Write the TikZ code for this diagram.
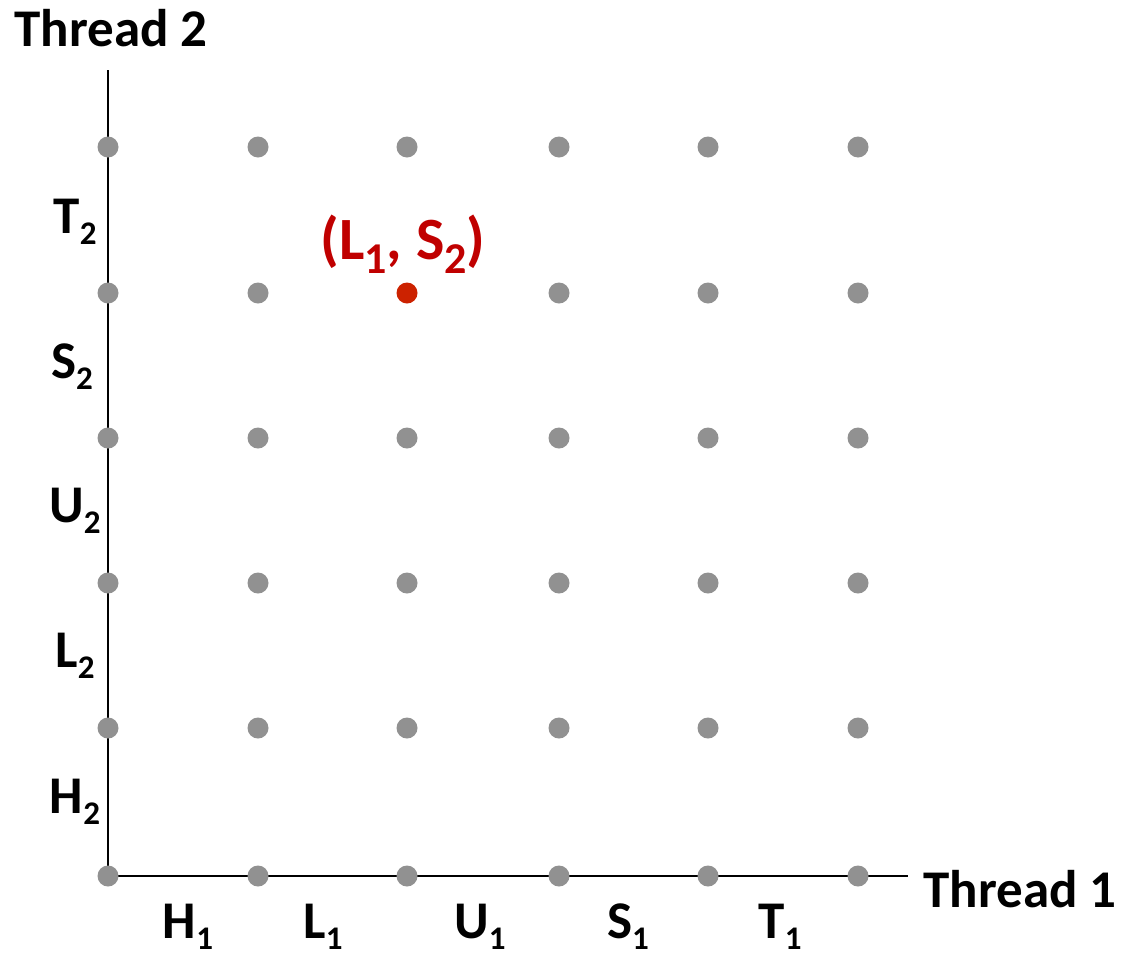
\documentclass[tikz,border=0pt]{standalone}
\usepackage{fontspec}
\setmainfont{Carlito}
\definecolor{dotgray}{RGB}{145,145,145}
\definecolor{redlab}{RGB}{192,0,0}
\definecolor{reddot}{RGB}{204,34,0}
\newcommand\lsub[1]{\raisebox{-11pt}[12pt][11pt]{\fontsize{33}{33}\selectfont #1}}
\newcommand\rsub[1]{\raisebox{-14pt}[16pt][14pt]{\fontsize{44}{44}\selectfont #1}}
\tikzset{
  dot/.style={circle,fill=dotgray,inner sep=0pt,minimum size=21pt},
  hotdot/.style={circle,fill=reddot,inner sep=0pt,minimum size=21pt},
  axis/.style={line width=2.4pt,black},
  lab/.style={font=\fontsize{53}{60}\selectfont\bfseries,inner sep=0pt},
  redlabel/.style={font=\fontsize{60}{66}\selectfont\bfseries,inner sep=0pt,text=redlab}
}
\begin{document}
\begin{tikzpicture}[x=1pt,y=-1pt]
\useasboundingbox (0,0) rectangle (1121,956);
\def\xs{{108,258,407,559,708,858}}
\def\ys{{876,728,583,438,293,147}}
\coordinate (ytop) at (108,70);
\coordinate (xend) at (908,876);
\coordinate (orig) at (108,876);
\draw[axis] (ytop) -- (orig) -- (xend);
% dots
\foreach \i in {0,...,5}{
  \foreach \j in {0,...,5}{
    \pgfmathsetmacro\px{\xs[\i]}
    \pgfmathsetmacro\py{\ys[\j]}
    \ifnum\i=2 \ifnum\j=4
      \node[hotdot] (d-\i-\j) at (\px,\py) {};
    \else
      \node[dot] (d-\i-\j) at (\px,\py) {};
    \fi
    \else
      \node[dot] (d-\i-\j) at (\px,\py) {};
    \fi
  }
}
% axis titles
\node[lab] (t2) at (111,28) {Thread 2};
\node[lab] (t1) at (1020,889) {Thread 1};
% thread 1 labels
\node[lab,anchor=base] (h1) at (188,938) {H\lsub{1}};
\node[lab,anchor=base] (l1) at (323,938) {L\lsub{1}};
\node[lab,anchor=base] (u1) at (480,938) {U\lsub{1}};
\node[lab,anchor=base] (s1) at (628,938) {S\lsub{1}};
\node[lab,anchor=base] (tt1) at (780,938) {T\lsub{1}};
% thread 2 labels
\node[lab,anchor=base] (tt2) at (75,233) {T\lsub{2}};
\node[lab,anchor=base] (s2) at (72,378) {S\lsub{2}};
\node[lab,anchor=base] (u2) at (75,522) {U\lsub{2}};
\node[lab,anchor=base] (l2) at (75,667) {L\lsub{2}};
\node[lab,anchor=base] (h2) at (75,813) {H\lsub{2}};
% highlighted point label
\node[redlabel,anchor=base] (pt) at (403,259) {(L\rsub{1}, S\rsub{2})};
\end{tikzpicture}
\end{document}
